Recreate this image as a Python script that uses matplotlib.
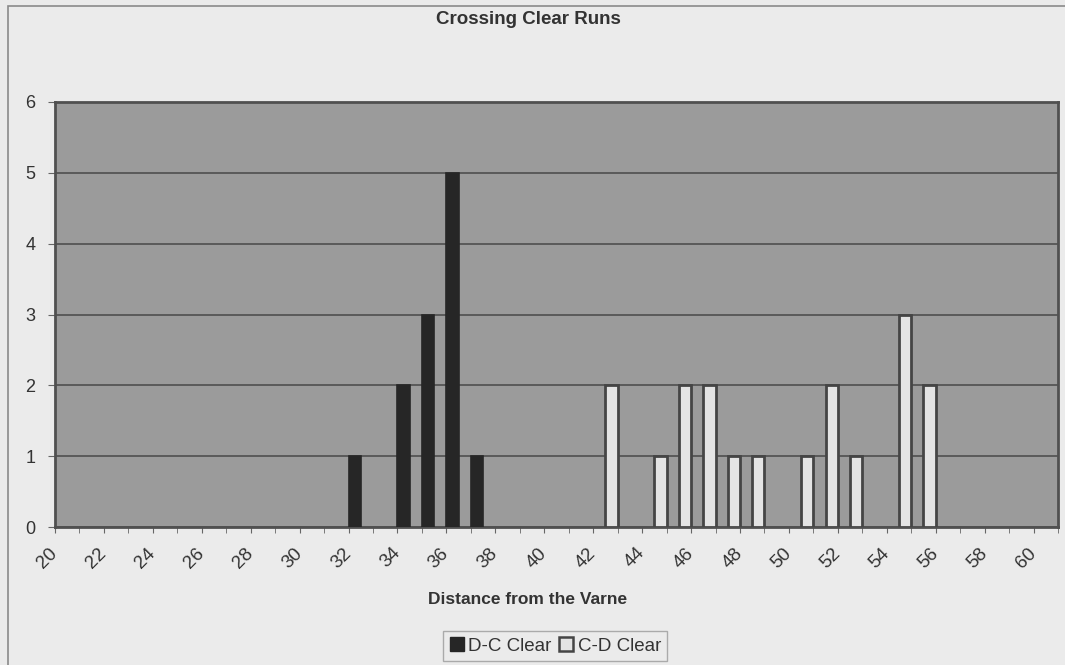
import numpy as np
import matplotlib.pyplot as plt
from matplotlib.patches import Rectangle
from matplotlib.lines import Line2D

plt.rcParams['font.family'] = ['Liberation Sans', 'DejaVu Sans']

# distance categories shown on the x axis
distances = list(range(20, 61))

# clear runs per distance for each crossing direction
dc_distances = [32, 34, 35, 36, 37]
dc_counts = [1, 2, 3, 5, 1]
cd_distances = [42, 44, 45, 46, 47, 48, 50, 51, 52, 54, 55]
cd_counts = [2, 1, 2, 2, 1, 1, 1, 2, 1, 3, 2]

W, H = 1065, 665
fig = plt.figure(figsize=(W / 100, H / 100), dpi=100)
fig.patch.set_facecolor('#ebebeb')

# chart area frame
fig.patches.append(Rectangle((8 / W, -0.01), 1.1, 1 - 6 / H + 0.01,
                             transform=fig.transFigure, fill=False,
                             edgecolor='#8a8a8a', linewidth=1.2))

ax = fig.add_axes([55 / W, 1 - 527 / H, (1058 - 55) / W, (527 - 102) / H])
ax.set_facecolor('#9b9b9b')

def cat_index(vals):
    return np.array([distances.index(v) for v in vals], dtype=float)

bar_w = 0.5
ax.bar(cat_index(dc_distances), dc_counts, width=bar_w, align='edge',
       color='#262626', edgecolor='#262626', linewidth=1.2, zorder=3,
       label='D-C Clear')
ax.bar(cat_index(cd_distances) + bar_w, cd_counts, width=bar_w, align='edge',
       color='#e4e4e4', edgecolor='#454545', linewidth=2.0, zorder=3,
       label='C-D Clear')

ax.set_xlim(0, len(distances))
ax.set_ylim(0, 6)
ax.set_yticks(range(0, 7))
ax.yaxis.grid(True, color='#555555', linewidth=1.3, zorder=1)

ax.set_xticks(np.arange(len(distances) + 1), minor=True)
major = [i for i, d in enumerate(distances) if d % 2 == 0]
ax.set_xticks(major)
ax.set_xticklabels([str(distances[i]) for i in major], rotation=45,
                   ha='right', va='center', rotation_mode='anchor',
                   fontsize=13.5, color='#333333')
ax.tick_params(axis='x', which='both', length=4, direction='out',
               color='#666666', pad=13)
ax.tick_params(axis='y', length=5, direction='out', color='#666666',
               labelsize=13, labelcolor='#333333', pad=9)

for s in ax.spines.values():
    s.set_color('#505050')
    s.set_linewidth(2.0)

fig.text(528 / W, 1 - 19 / H, 'Crossing Clear Runs', ha='center',
         va='center', fontsize=13.5, fontweight='bold', color='#333333')
fig.text(528 / W, 1 - 599 / H, 'Distance from the Varne', ha='center',
         va='center', fontsize=12.5, fontweight='bold', color='#333333')

handles = [
    Line2D([], [], marker='s', linestyle='none', markersize=10,
           markerfacecolor='#262626', markeredgecolor='#262626'),
    Line2D([], [], marker='s', linestyle='none', markersize=10,
           markerfacecolor='#e4e4e4', markeredgecolor='#454545',
           markeredgewidth=1.8),
]
leg = fig.legend(handles, ['D-C Clear', 'C-D Clear'], loc='center',
                 bbox_to_anchor=(555 / W, 1 - 646 / H), ncol=2,
                 frameon=True, fancybox=False, fontsize=13.5,
                 handlelength=0.8, handletextpad=0.2, columnspacing=0.4,
                 borderpad=0.35)
leg.get_frame().set_facecolor('#ebebeb')
leg.get_frame().set_edgecolor('#9a9a9a')
for t in leg.get_texts():
    t.set_color('#333333')

fig.savefig('out.png', dpi=100, facecolor=fig.get_facecolor())
